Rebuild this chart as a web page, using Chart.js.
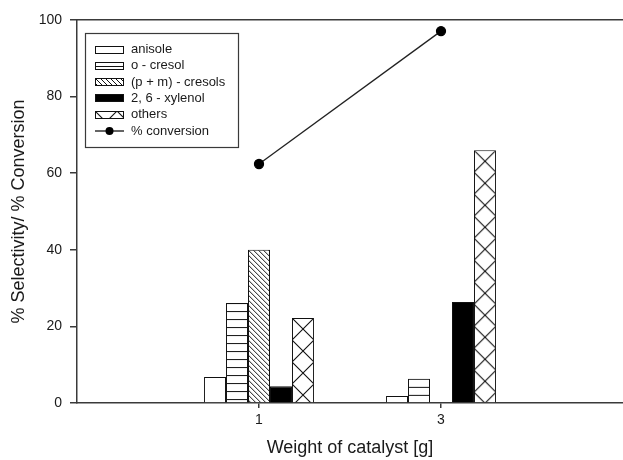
<!DOCTYPE html>
<html>
<head>
<meta charset="utf-8">
<script src="https://cdn.jsdelivr.net/npm/chart.js@4.4.1/dist/chart.umd.min.js"></script>
<style>
  html, body { margin: 0; padding: 0; background: #fff; }
  #wrap { width: 623px; height: 460px; }
</style>
</head>
<body>
<div id="wrap"><canvas id="c" width="623" height="460"></canvas></div>
<script>
// Product selectivity and conversion versus catalyst weight
const catalystWeights = [1, 3];
const anisole    = [6.8, 1.8];
const oCresol    = [26.1, 6.3];
const pmCresols  = [40.0, 0];
const xylenol26  = [4.4, 26.4];
const others     = [22.2, 66.0];
const conversion = [62.4, 97.1];

const xTickValues = [1, 3];
const yTickStep = 20;
const seriesLabels = ['anisole', 'o - cresol', '(p + m) - cresols', '2, 6 - xylenol', 'others', '% conversion'];

const FONT = "'Liberation Sans', Arial, sans-serif";
const INK = '#1a1a1a';
const AXIS = '#3a3a3a';
const CAT_PCT = 0.604;
const BAR_COUNT = 5;

Chart.defaults.font.family = FONT;
Chart.defaults.color = INK;

// ---- fill patterns -------------------------------------------------------
function tile(w, h, draw) {
  const c = document.createElement('canvas');
  c.width = w; c.height = h;
  const g = c.getContext('2d');
  g.fillStyle = '#fff';
  g.fillRect(0, 0, w, h);
  g.strokeStyle = '#111';
  g.lineWidth = 1;
  draw(g, w, h);
  return c;
}
const tiles = {
  hlines: tile(8, 8, (g) => { g.beginPath(); g.moveTo(0, 0.5); g.lineTo(8, 0.5); g.stroke(); }),
  diag: tile(5, 5, (g, w, h) => {
    g.beginPath();
    g.moveTo(-1, -1); g.lineTo(w + 1, h + 1);
    g.moveTo(-1, h - 1); g.lineTo(1, h + 1);
    g.moveTo(w - 1, -1); g.lineTo(w + 1, 1);
    g.stroke();
  }),
  cross: tile(22, 22, (g, w, h) => {
    g.lineWidth = 1.1;
    g.beginPath();
    g.moveTo(0, 0); g.lineTo(w, h);
    g.moveTo(w, 0); g.lineTo(0, h);
    g.stroke();
  })
};

const canvas = document.getElementById('c');
const ctx2d = canvas.getContext('2d');

function anchoredPattern(kind, x, y) {
  const p = ctx2d.createPattern(tiles[kind], 'repeat');
  p.setTransform(new DOMMatrix([1, 0, 0, 1, x, y]));
  return p;
}

// fill for one bar, with the pattern anchored to that bar's top-left corner
function barFill(kind, dsIndex) {
  if (kind === 'white') return '#fff';
  if (kind === 'black') return '#000';
  return (c) => {
    const chart = c.chart;
    const xs = chart.scales.x, ys = chart.scales.y;
    if (!xs || !ys || c.type !== 'data' || !c.raw) return anchoredPattern(kind, 0, 0);
    const unit = Math.abs(xs.getPixelForValue(catalystWeights[1]) - xs.getPixelForValue(catalystWeights[0]));
    const groupW = unit * CAT_PCT;
    const left = xs.getPixelForValue(c.raw.x) - groupW / 2 + dsIndex * groupW / BAR_COUNT;
    const top = ys.getPixelForValue(c.raw.y);
    return anchoredPattern(kind, left, top);
  };
}

const barSeries = [
  { values: anisole,   fill: 'white' },
  { values: oCresol,   fill: 'hlines' },
  { values: pmCresols, fill: 'diag' },
  { values: xylenol26, fill: 'black' },
  { values: others,    fill: 'cross' }
];

const datasets = barSeries.map((s, i) => ({
  type: 'bar',
  label: seriesLabels[i],
  data: catalystWeights.map((x, k) => ({ x, y: s.values[k] })),
  backgroundColor: barFill(s.fill, i),
  borderColor: '#111',
  borderWidth: 1,
  categoryPercentage: CAT_PCT,
  barPercentage: 1,
  legendFill: s.fill,
  order: 2
}));

datasets.push({
  type: 'line',
  label: seriesLabels[5],
  data: catalystWeights.map((x, k) => ({ x, y: conversion[k] })),
  borderColor: '#222',
  borderWidth: 1.3,
  pointRadius: 4.5,
  pointBackgroundColor: '#000',
  pointBorderColor: '#000',
  fill: false,
  order: 1
});

// ---- framed legend inside the plot area ----------------------------------
const framedLegend = {
  id: 'framedLegend',
  afterDraw(chart) {
    const ctx = chart.ctx;
    const a = chart.chartArea;
    const bx = a.left + 8, by = a.top + 13, bw = 153, bh = 114;
    ctx.save();
    ctx.fillStyle = '#fff';
    ctx.fillRect(bx, by, bw, bh);
    ctx.strokeStyle = AXIS;
    ctx.lineWidth = 1.2;
    ctx.strokeRect(bx + 0.5, by + 0.5, bw, bh);

    const sx = bx + 10, sw = 29, sh = 8, tx = bx + 46;
    const rowY0 = by + 16.5, rowStep = 16.3;
    ctx.font = '13px ' + FONT;
    ctx.textBaseline = 'middle';
    ctx.textAlign = 'left';
    chart.data.datasets.forEach((ds, i) => {
      const cy = rowY0 + i * rowStep;
      if (ds.type === 'bar') {
        const top = Math.round(cy - sh / 2);
        const f = ds.legendFill;
        ctx.fillStyle = f === 'white' ? '#fff' : f === 'black' ? '#000' : anchoredPattern(f, sx, top + (f === 'hlines' ? 4 : 0));
        ctx.fillRect(sx, top, sw, sh);
        ctx.strokeStyle = '#111';
        ctx.lineWidth = 1;
        ctx.strokeRect(sx + 0.5, top + 0.5, sw - 1, sh - 1);
      } else {
        ctx.strokeStyle = '#111';
        ctx.lineWidth = 1.3;
        ctx.beginPath();
        ctx.moveTo(sx, cy); ctx.lineTo(sx + sw, cy);
        ctx.stroke();
        ctx.fillStyle = '#000';
        ctx.beginPath();
        ctx.arc(sx + sw / 2, cy, 4, 0, Math.PI * 2);
        ctx.fill();
      }
      ctx.fillStyle = INK;
      ctx.fillText(ds.label, tx, cy);
    });
    ctx.restore();
  }
};

new Chart(canvas, {
  data: { datasets },
  options: {
    responsive: false,
    animation: false,
    layout: { padding: 0, autoPadding: false },
    plugins: { legend: { display: false }, tooltip: { enabled: false } },
    scales: {
      x: {
        type: 'linear',
        position: 'bottom',
        min: -1,
        max: 5,
        offset: false,
        afterBuildTicks: (s) => { s.ticks = xTickValues.map((v) => ({ value: v })); },
        afterFit: (s) => { s.height = 57; },
        ticks: { font: { size: 14 }, color: INK, padding: 4, maxRotation: 0 },
        grid: { drawOnChartArea: false, offset: false, tickLength: 5, color: AXIS, lineWidth: 1.5 },
        border: { color: AXIS, width: 1.5 },
        title: { display: true, text: 'Weight of catalyst [g]', font: { size: 18 }, color: INK, padding: { top: 0, bottom: 1 } }
      },
      xTop: {
        type: 'linear',
        position: 'top',
        min: -1,
        max: 5,
        offset: false,
        afterFit: (s) => { s.height = 20; },
        ticks: { display: false },
        grid: { display: false },
        border: { display: true, color: AXIS, width: 1.5 }
      },
      y: {
        type: 'linear',
        position: 'left',
        min: 0,
        max: 100,
        afterFit: (s) => { s.width = 77; },
        ticks: { stepSize: yTickStep, font: { size: 14 }, color: INK, padding: 8 },
        grid: { drawOnChartArea: false, tickLength: 7, color: AXIS, lineWidth: 1.5 },
        border: { color: AXIS, width: 1.5 },
        title: { display: true, text: '% Selectivity/ % Conversion', font: { size: 18 }, color: INK, padding: { top: 8, bottom: 0 } }
      }
    }
  },
  plugins: [framedLegend]
});
</script>
</body>
</html>
